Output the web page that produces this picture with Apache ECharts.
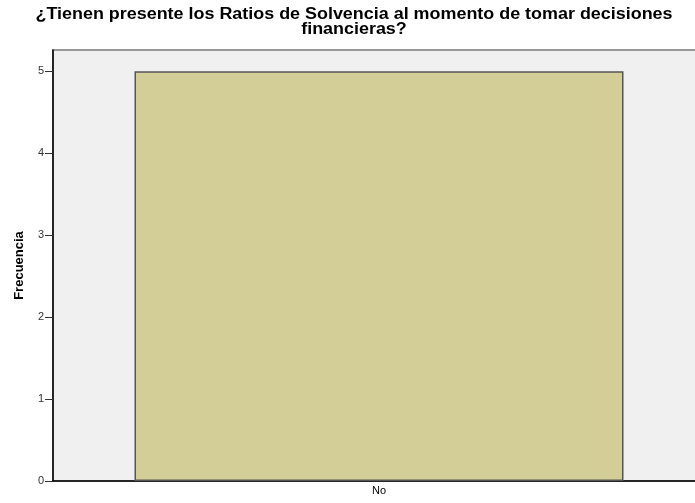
<!DOCTYPE html>
<html>
<head>
<meta charset="utf-8">
<script src="https://cdn.jsdelivr.net/npm/echarts@6/dist/echarts.min.js"></script>
<style>
html,body{margin:0;padding:0;background:#fff;overflow:hidden;}
#c{width:705px;height:503px;}
</style>
</head>
<body>
<div id="c"></div>
<script>
var titleText = '¿Tienen presente los Ratios de Solvencia al momento de tomar decisiones\nfinancieras?';
var categories = ['No'];
var frecuencia = [5];
var yTicks = [0, 1, 2, 3, 4, 5];

var chart = echarts.init(document.getElementById('c'));
chart.setOption({
  animation: false,
  backgroundColor: '#ffffff',
  graphic: [{
    type: 'text',
    x: 354,
    y: 7,
    scaleX: 1.12,
    style: {
      text: titleText,
      textAlign: 'center',
      textVerticalAlign: 'top',
      verticalAlign: 'top',
      align: 'center',
      font: 'bold 16px "Liberation Sans", Arial, sans-serif',
      lineHeight: 15,
      fill: '#000'
    }
  }],
  grid: {
    left: 53,
    top: 50,
    bottom: 22,
    right: 0,
    show: true,
    backgroundColor: '#F0F0F0',
    borderColor: '#999999',
    borderWidth: 2
  },
  xAxis: {
    type: 'category',
    data: categories,
    axisLine: { lineStyle: { color: '#000', width: 1.5 } },
    axisTick: { alignWithLabel: true, length: 6, lineStyle: { color: '#000' } },
    axisLabel: {
      color: '#000',
      fontFamily: 'Liberation Sans, Arial, sans-serif',
      fontSize: 11,
      margin: 4
    }
  },
  yAxis: {
    type: 'value',
    min: 0,
    max: 5.26,
    interval: 1,
    name: 'Frecuencia',
    nameLocation: 'middle',
    nameGap: 27,
    nameRotate: 90,
    nameTextStyle: {
      fontFamily: 'Liberation Sans, Arial, sans-serif',
      fontWeight: 'bold',
      fontSize: 13,
      color: '#000'
    },
    splitLine: { show: false },
    axisLine: { show: true, lineStyle: { color: '#000', width: 1.5 } },
    axisTick: { show: true, length: 8, lineStyle: { color: '#333' } },
    axisLabel: {
      showMaxLabel: false,
      color: '#333',
      fontFamily: 'Liberation Sans, Arial, sans-serif',
      fontSize: 11,
      margin: 9,
      formatter: function (v) { return yTicks.indexOf(v) >= 0 ? String(v) : ''; }
    }
  },
  series: [{
    type: 'bar',
    data: frecuencia,
    barWidth: '75%',
    itemStyle: {
      color: '#D3CE97',
      borderColor: '#555555',
      borderWidth: 1.5
    }
  }]
});
</script>
</body>
</html>
